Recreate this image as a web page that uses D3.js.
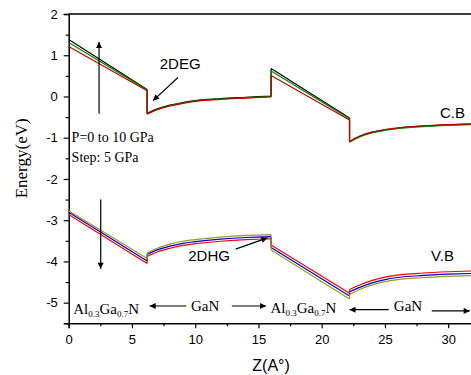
<!DOCTYPE html>
<html>
<head>
<meta charset="utf-8">
<script src="https://cdn.jsdelivr.net/npm/d3@7"></script>
<style>
  body { margin: 0; background: #fff; }
  svg { display: block; }
  .tick text { font-family: Arial, 'Liberation Sans', sans-serif; font-size: 13px; }
  .band { fill: none; stroke-width: 1.2; stroke-linejoin: round; }
</style>
</head>
<body>
<svg width="471" height="375"></svg>
<script>
// z positions (Angstrom) shared by every band line
const zValues = [0, 6.2, 6.2, 7, 8, 9, 10, 12, 14, 16, 16, 22.2, 22.2, 23, 24, 25, 26, 28, 30, 32]
// index ranges of each piece: straight (2 points) or curved (several)
const pieces = [[0, 1], [1, 2], [2, 9], [9, 10], [10, 11], [11, 12], [12, 19]]

// conduction band, three pressures
const cbBlack = [1.38, 0.17, -0.41, -0.30, -0.21, -0.15, -0.10, -0.05, -0.02, 0.01, 0.68, -0.52, -1.10, -0.97, -0.87, -0.81, -0.77, -0.72, -0.69, -0.67]
const cbGreen = [1.31, 0.16, -0.42, -0.31, -0.22, -0.16, -0.11, -0.06, -0.03, 0.00, 0.62, -0.54, -1.11, -0.98, -0.88, -0.82, -0.78, -0.73, -0.70, -0.68]
const cbRed = [1.21, 0.14, -0.43, -0.32, -0.23, -0.17, -0.12, -0.07, -0.04, -0.01, 0.51, -0.57, -1.09, -0.96, -0.86, -0.80, -0.76, -0.71, -0.68, -0.66]

// valence band, three pressures
const vbOlive = [-2.77, -3.93, -3.79, -3.68, -3.58, -3.51, -3.47, -3.41, -3.37, -3.35, -3.72, -4.91, -4.80, -4.68, -4.57, -4.49, -4.44, -4.39, -4.36, -4.34]
const vbBlue = [-2.81, -3.99, -3.83, -3.72, -3.63, -3.56, -3.52, -3.46, -3.42, -3.40, -3.66, -4.84, -4.74, -4.63, -4.52, -4.44, -4.39, -4.34, -4.31, -4.29]
const vbRed = [-2.86, -4.05, -3.88, -3.77, -3.68, -3.61, -3.57, -3.51, -3.47, -3.45, -3.60, -4.77, -4.68, -4.57, -4.46, -4.38, -4.33, -4.28, -4.25, -4.23]

const xTicks = [0, 5, 10, 15, 20, 25, 30]
const xMinorTicks = [2.5, 7.5, 12.5, 17.5, 22.5, 27.5, 32.5]
const yTicks = [-5, -4, -3, -2, -1, 0, 1, 2]
const yMinorTicks = [-5.5, -4.5, -3.5, -2.5, -1.5, -0.5, 0.5, 1.5]

const svg = d3.select('svg')

const x = d3.scaleLinear().domain([0, 32]).range([68.7, 473.5])
const y = d3.scaleLinear().domain([-5.5, 2]).range([323.3, 14])

const series = [
  { values: cbBlack, color: '#000000' },
  { values: cbGreen, color: '#008a00' },
  { values: cbRed, color: '#c00000' },
  { values: vbBlue, color: '#0000cc' },
  { values: vbRed, color: '#ff0000' },
  { values: vbOlive, color: '#999922' }
]

// frame top line
svg.append('line')
  .attr('x1', x(0)).attr('x2', x(32))
  .attr('y1', y(2)).attr('y2', y(2))
  .attr('stroke', '#000').attr('stroke-width', 1.5)

svg.append('g')
  .attr('transform', `translate(0, ${y(-5.5)})`)
  .call(d3.axisBottom(x).tickValues(xTicks).tickSize(5).tickPadding(6.5).tickFormat(d3.format('d')))
svg.append('g')
  .attr('transform', `translate(0, ${y(-5.5)})`)
  .call(d3.axisBottom(x).tickValues(xMinorTicks).tickSize(3).tickFormat(''))
  .select('.domain').remove()

const yAxisG = svg.append('g')
  .attr('transform', `translate(${x(0)}, 0)`)
  .call(d3.axisLeft(y).tickValues(yTicks).tickSize(5).tickPadding(6).tickFormat(d3.format('d')))
svg.append('g')
  .attr('transform', `translate(${x(0)}, 0)`)
  .call(d3.axisLeft(y).tickValues(yMinorTicks).tickSize(3).tickFormat(''))
  .select('.domain').remove()

svg.selectAll('.domain').attr('stroke-width', 1.5)
svg.selectAll('.tick line').attr('stroke-width', 1.2)
yAxisG.selectAll('.tick text').text(d => d < 0 ? '-' + Math.abs(d) : d)

const straight = d3.line().x(d => x(d[0])).y(d => y(d[1]))
const curved = d3.line().x(d => x(d[0])).y(d => y(d[1])).curve(d3.curveMonotoneX)

const bandPath = values => {
  const pts = zValues.map((z, i) => [z, values[i]])
  return pieces.map(([a, b]) => {
    const seg = pts.slice(a, b + 1)
    return seg.length > 2 ? curved(seg) : straight(seg)
  }).join('')
}

svg.selectAll('.band')
  .data(series)
  .enter()
  .append('path')
  .attr('class', 'band')
  .attr('stroke', d => d.color)
  .attr('d', d => bandPath(d.values))

// arrowheads
const defs = svg.append('defs')
defs.append('marker')
  .attr('id', 'head')
  .attr('viewBox', '0 -5 10 10')
  .attr('refX', 10).attr('refY', 0)
  .attr('markerWidth', 9).attr('markerHeight', 6)
  .attr('markerUnits', 'userSpaceOnUse')
  .attr('orient', 'auto')
  .append('path')
  .attr('d', 'M0,-5L10,0L0,5Z')
  .attr('fill', '#000')

const arrows = [
  { from: [2.4, -0.42], to: [2.4, 1.32] },
  { from: [2.53, -2.5], to: [2.53, -4.18] },
  { from: [8.64, 0.46], to: [6.67, -0.1] },
  { from: [13.2, -3.70], to: [15.7, -3.43] },
  { from: [9.3, -5.08], to: [6.4, -5.08] },
  { from: [12.9, -5.08], to: [15.6, -5.08] },
  { from: [25.3, -5.17], to: [22.2, -5.17] },
  { from: [28.7, -5.2], to: [31.7, -5.2] }
]

svg.selectAll('.arrow')
  .data(arrows)
  .enter()
  .append('line')
  .attr('class', 'arrow')
  .attr('x1', d => x(d.from[0])).attr('y1', d => y(d.from[1]))
  .attr('x2', d => x(d.to[0])).attr('y2', d => y(d.to[1]))
  .attr('stroke', '#000').attr('stroke-width', 1.2)
  .attr('marker-end', 'url(#head)')

const sans = 'Arial, "Liberation Sans", sans-serif'
const serif = '"Times New Roman", "Liberation Serif", serif'

const labels = [
  { text: '2DEG', z: 7.2, e: 0.67, font: sans, size: 15 },
  { text: '2DHG', z: 9.45, e: -4.0, font: sans, size: 15 },
  { text: 'C.B', z: 29.35, e: -0.53, font: sans, size: 15 },
  { text: 'V.B', z: 28.65, e: -3.99, font: sans, size: 15 },
  { text: 'P=0 to 10 GPa', z: 0.23, e: -1.1, font: serif, size: 14 },
  { text: 'Step: 5 GPa', z: 0.23, e: -1.58, font: serif, size: 14 },
  { text: 'GaN', z: 9.67, e: -5.2, font: serif, size: 15 },
  { text: 'GaN', z: 25.7, e: -5.19, font: serif, size: 15 }
]

svg.selectAll('.label')
  .data(labels)
  .enter()
  .append('text')
  .attr('x', d => x(d.z)).attr('y', d => y(d.e))
  .style('font-family', d => d.font)
  .style('font-size', d => d.size + 'px')
  .text(d => d.text)

// Al0.3Ga0.7N labels with subscripts
const alganPos = [[0.36, -5.28], [15.95, -5.24]]
alganPos.forEach(p => {
  const t = svg.append('text')
    .attr('x', x(p[0])).attr('y', y(p[1]))
    .style('font-family', serif)
    .style('font-size', '15px')
  t.append('tspan').text('Al')
  t.append('tspan').attr('dy', 3).style('font-size', '9px').text('0.3')
  t.append('tspan').attr('dy', -3).text('Ga')
  t.append('tspan').attr('dy', 3).style('font-size', '9px').text('0.7')
  t.append('tspan').attr('dy', -3).text('N')
})

// axis titles
svg.append('text')
  .attr('transform', `translate(27, ${y(-1.5)}) rotate(-90)`)
  .attr('text-anchor', 'middle')
  .style('font-family', serif)
  .style('font-size', '17px')
  .text('Energy(eV)')

svg.append('text')
  .attr('x', x(16)).attr('y', 371)
  .attr('text-anchor', 'middle')
  .style('font-family', sans)
  .style('font-size', '16px')
  .text('Z(A°)')
</script>
</body>
</html>
